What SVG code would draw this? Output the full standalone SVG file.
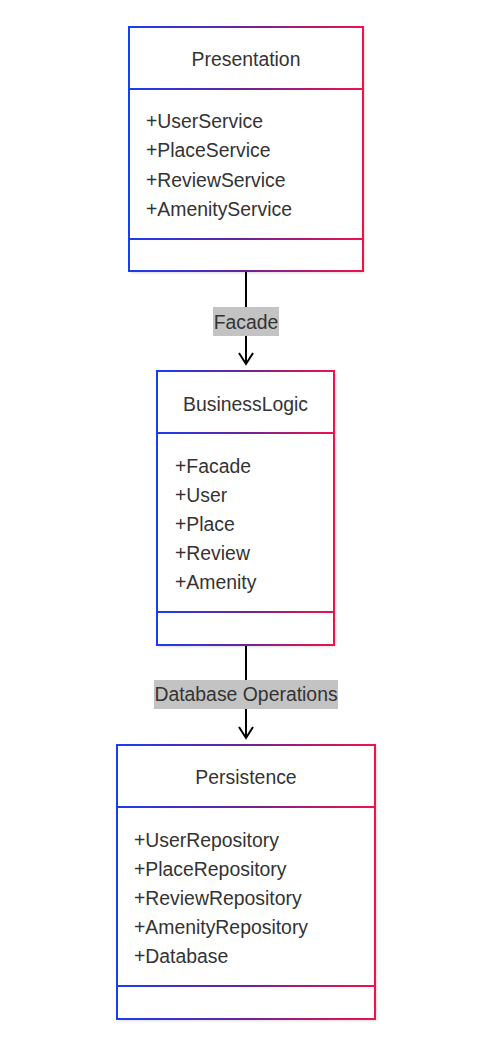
<svg xmlns="http://www.w3.org/2000/svg" width="494" height="1045" viewBox="0 0 494 1045">
<defs>
<linearGradient id="grad" x1="0" y1="0" x2="1" y2="0">
<stop offset="0" stop-color="#1a3cf5"/>
<stop offset="0.5" stop-color="#6b2496"/>
<stop offset="1" stop-color="#f2114a"/>
</linearGradient>
<filter id="shadow" x="-10%" y="-10%" width="125%" height="125%">
<feDropShadow dx="1.5" dy="1.5" stdDeviation="1.5" flood-color="#000" flood-opacity="0.18"/>
</filter>
<marker id="arrow" viewBox="0 0 14 16" refX="12" refY="8" markerWidth="14" markerHeight="16" markerUnits="userSpaceOnUse" orient="auto">
<path d="M1,1 L12,8 L1,15" fill="none" stroke="#000" stroke-width="2"/>
</marker>
</defs>
<style>
.box{fill:#fff;filter:url(#shadow)}
.border{fill:none;stroke:url(#grad);stroke-width:2}
.title{font-family:"Liberation Sans",Arial,sans-serif;font-size:19.4px;fill:#333;text-anchor:middle}
.member{font-family:"Liberation Sans",Arial,sans-serif;font-size:19.4px;fill:#333}
.edge{stroke:#000;stroke-width:2;fill:none}
.lblbg{fill:#c3c3c3}
.lbl{font-family:"Liberation Sans",Arial,sans-serif;font-size:19.4px;fill:#333;text-anchor:middle}
</style>
<g id="connectors">
<line class="edge" x1="246" y1="272" x2="246" y2="364" marker-end="url(#arrow)"/>
<rect class="lblbg" x="213" y="307" width="66" height="29"/>
<text class="lbl" x="246" y="329">Facade</text>
<line class="edge" x1="246" y1="646" x2="246" y2="738" marker-end="url(#arrow)"/>
<rect class="lblbg" x="154" y="680" width="184" height="29"/>
<text class="lbl" x="246" y="701">Database Operations</text>
</g>
<g id="Presentation">
<rect class="box" x="129" y="27" width="234" height="244"/>
<path class="border" d="M129,27 H363 V271 H129 Z M129,89 H363 M129,239 H363"/>
<text class="title" x="246" y="66">Presentation</text>
<text class="member" x="146" y="128">+UserService</text>
<text class="member" x="146" y="157">+PlaceService</text>
<text class="member" x="146" y="186.5">+ReviewService</text>
<text class="member" x="146" y="215.5">+AmenityService</text>
</g>
<g id="BusinessLogic">
<rect class="box" x="157" y="371" width="177" height="274"/>
<path class="border" d="M157,371 H334 V645 H157 Z M157,433 H334 M157,612 H334"/>
<text class="title" x="245.5" y="410.5">BusinessLogic</text>
<text class="member" x="175" y="472.5">+Facade</text>
<text class="member" x="175" y="501.5">+User</text>
<text class="member" x="175" y="530.5">+Place</text>
<text class="member" x="175" y="559.5">+Review</text>
<text class="member" x="175" y="588.5">+Amenity</text>
</g>
<g id="Persistence">
<rect class="box" x="117" y="745" width="258" height="274"/>
<path class="border" d="M117,745 H375 V1019 H117 Z M117,807 H375 M117,986 H375"/>
<text class="title" x="246" y="784">Persistence</text>
<text class="member" x="134" y="846.5">+UserRepository</text>
<text class="member" x="134" y="875.5">+PlaceRepository</text>
<text class="member" x="134" y="904.5">+ReviewRepository</text>
<text class="member" x="134" y="933.5">+AmenityRepository</text>
<text class="member" x="134" y="962.5">+Database</text>
</g>
</svg>
